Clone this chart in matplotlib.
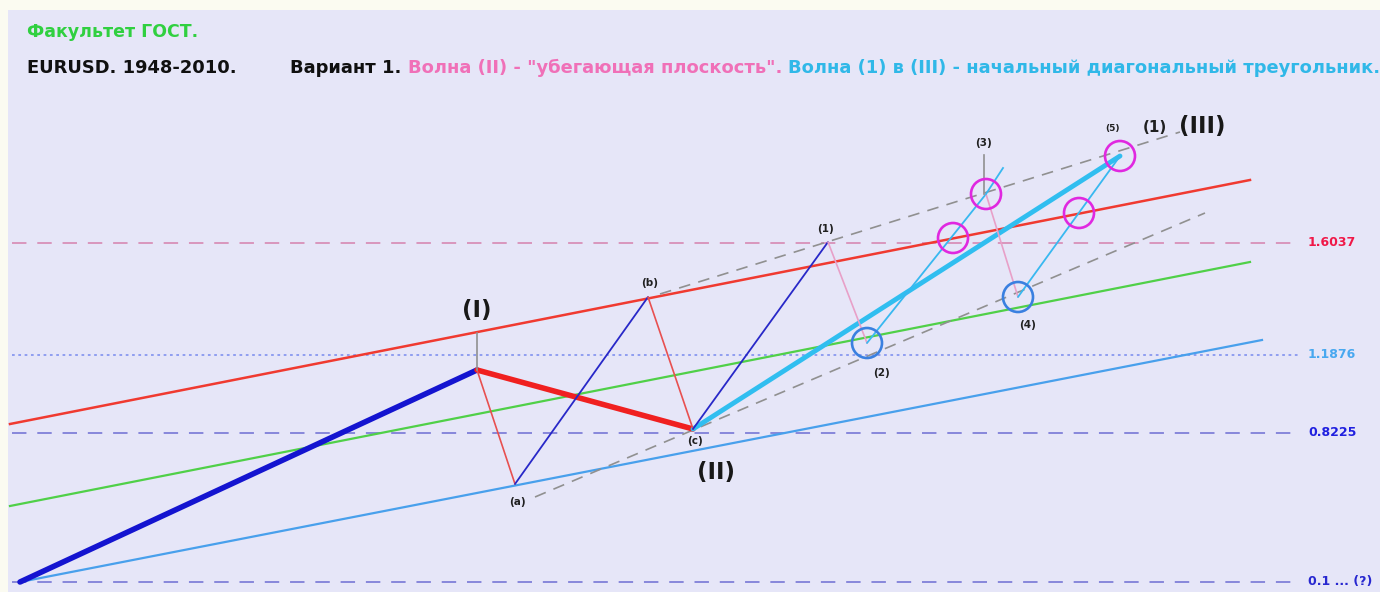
import matplotlib.pyplot as plt
from matplotlib.patches import Circle

plt.rcParams['font.family'] = ['DejaVu Sans']

# wave points (schematic, picture coordinates)
wave_names = ['start', '(I)', '(a)', '(b)', '(c)', '(1)', '(2)', '(3)', '(4)', '(5)']
wave_x = [20, 477, 515, 648, 693, 828, 867, 986, 1018, 1120]
wave_y = [582, 370, 484, 297, 429, 242, 343, 194, 297, 156]

# channel lines: x0, y0, x1, y1
red_line = [10, 424, 1250, 180]
green_line = [10, 506, 1250, 262]
blue_line = [20, 582, 1262, 340]
gray_upper = [660, 294, 1180, 132]
gray_lower = [535, 497, 1205, 213]

# horizontal levels
level_y = [243, 355, 433, 582]
level_labels = ['1.6037', '1.1876', '0.8225', '0.1 ... (?)']
level_colors = ['#F01848', '#48A8F0', '#2020E0', '#2828D0']
level_line_colors = ['#D890B8', '#8898F0', '#8080D8', '#8080D8']
level_styles = [(0, (8, 6)), (0, (1.5, 2)), (0, (8, 6)), (0, (8, 6))]

# extra circles on the diagonal
magenta_x = [953, 1079]
magenta_y = [238, 213]

fig = plt.figure(figsize=(13.8, 5.92), dpi=100, facecolor='#FBFBF1')
ax = fig.add_axes([8 / 1380, 0, 1 - 8 / 1380, 1 - 10 / 592])
ax.set_facecolor('#E6E6F8')
ax.set_xlim(8, 1380)
ax.set_ylim(592, 10)
ax.set_xticks([])
ax.set_yticks([])
for s in ax.spines.values():
    s.set_visible(False)

# levels
for y, lab, c, lc, ls in zip(level_y, level_labels, level_colors, level_line_colors, level_styles):
    ax.plot([12, 1300], [y, y], color=lc, lw=1.3, ls=ls, zorder=1)
    ax.text(1308, y, lab, color=c, fontsize=9, fontweight='bold', va='center', ha='left')

# channels
ax.plot(red_line[0::2], red_line[1::2], color='#F03A30', lw=1.8, zorder=2)
ax.plot(green_line[0::2], green_line[1::2], color='#50D048', lw=1.6, zorder=2)
ax.plot(blue_line[0::2], blue_line[1::2], color='#48A0EC', lw=1.6, zorder=2)
ax.plot(gray_upper[0::2], gray_upper[1::2], color='#909090', lw=1.2, ls=(0, (7, 5)), zorder=2)
ax.plot(gray_lower[0::2], gray_lower[1::2], color='#909090', lw=1.2, ls=(0, (7, 5)), zorder=2)

P = dict(zip(wave_names, zip(wave_x, wave_y)))

def seg(a, b, color, lw, z=3):
    ax.plot([P[a][0], P[b][0]], [P[a][1], P[b][1]], color=color, lw=lw, zorder=z,
            solid_capstyle='round')

# big waves
seg('start', '(I)', '#1414D0', 4)
seg('(I)', '(c)', '#F02020', 4)
seg('(c)', '(5)', '#30BEF0', 3.5)
# subwaves
seg('(I)', '(a)', '#E85050', 1.2)
seg('(a)', '(b)', '#2828C8', 1.3)
seg('(b)', '(c)', '#E85050', 1.2)
seg('(c)', '(1)', '#2828C8', 1.3)
seg('(1)', '(2)', '#E8A0C8', 1.2)
seg('(2)', '(3)', '#38B8F0', 1.3)
seg('(3)', '(4)', '#E8A0C8', 1.2)
seg('(4)', '(5)', '#38B8F0', 1.3)
# extension of (2)-(3) beyond (3)
ax.plot([P['(3)'][0], 1003], [P['(3)'][1], 168], color='#38B8F0', lw=1.3, zorder=3)

# gray markers
ax.plot([477, 477], [P['(I)'][1], 333], color='#909090', lw=1.2, zorder=3)
ax.plot([984, 984], [P['(3)'][1], 155], color='#909090', lw=1.2, zorder=3)

# circles
for n in ['(2)', '(4)']:
    ax.add_patch(Circle(P[n], 15, fill=False, ec='#3A80E0', lw=1.9, zorder=4))
for x, y in list(zip(magenta_x, magenta_y)) + [P['(3)'], P['(5)']]:
    ax.add_patch(Circle((x, y), 15, fill=False, ec='#E028E0', lw=1.9, zorder=4))

# point labels
small = dict(fontsize=7.5, fontweight='bold', color='#202020', ha='center', va='center')
ax.text(517, 502, '(a)', **small)
ax.text(650, 283, '(b)', **small)
ax.text(695, 441, '(c)', **small)
ax.text(825, 229, '(1)', **small)
ax.text(882, 373, '(2)', **small)
ax.text(1028, 325, '(4)', **small)
ax.text(983, 143, '(3)', **small)
ax.text(1112, 128, '(5)', fontsize=6.5, fontweight='bold', color='#202020', ha='center', va='center')
ax.text(1155, 128, '(1)', fontsize=11, fontweight='bold', color='#202020', ha='center', va='center')
big = dict(fontsize=16.5, fontweight='bold', color='#181818', ha='center', va='center')
ax.text(477, 310, '(I)', **big)
ax.text(716, 472, '(II)', **big)
ax.text(1202, 127, '(III)', **big)

# header
ax.text(27, 32, 'Факультет ГОСТ.', color='#30D040', fontsize=12.5, fontweight='bold', va='center')
ax.text(27, 68, 'EURUSD. 1948-2010.', color='#101010', fontsize=12.9, fontweight='bold', va='center')
t1 = ax.text(290, 68, 'Вариант 1. ', color='#101010', fontsize=12.85, fontweight='bold', va='center')
t2 = ax.annotate('Волна (II) - "убегающая плоскость". ', xy=(1, 0), xycoords=t1,
                 va='bottom', color='#F070B8', fontsize=12.85, fontweight='bold')
ax.annotate('Волна (1) в (III) - начальный диагональный треугольник.', xy=(1, 0), xycoords=t2,
            va='bottom', color='#30B8E8', fontsize=12.85, fontweight='bold')

fig.savefig('out.png', dpi=100, facecolor=fig.get_facecolor())
